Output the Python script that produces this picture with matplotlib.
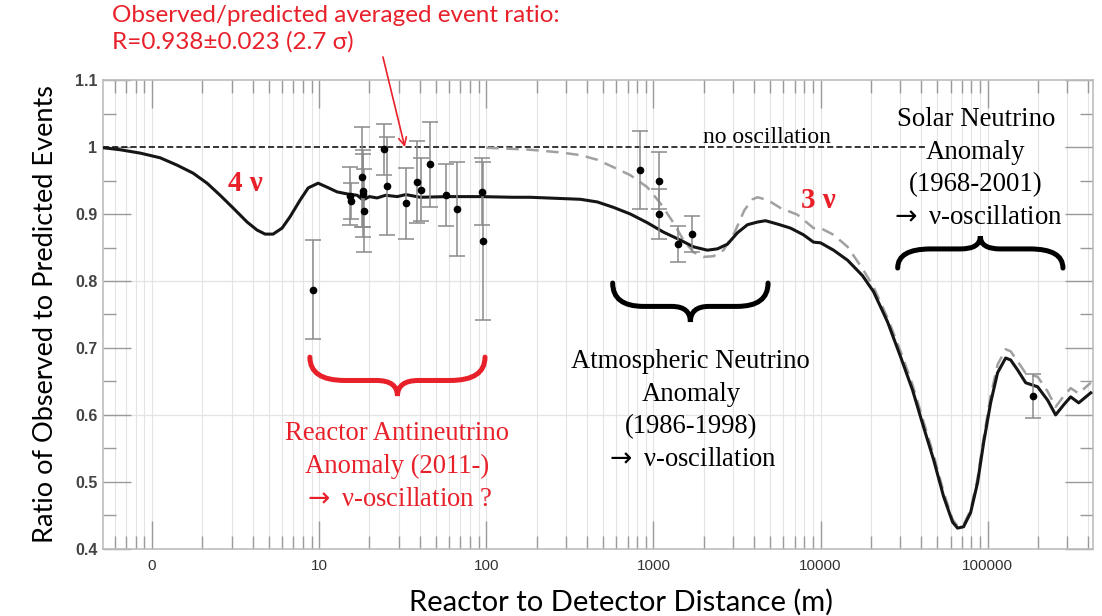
import matplotlib
matplotlib.use("Agg")
import matplotlib.pyplot as plt
from matplotlib.path import Path
from matplotlib.patches import PathPatch
from matplotlib.ticker import FixedLocator, LogLocator, MultipleLocator, FuncFormatter

plt.rcParams["mathtext.fontset"] = "dejavusans"

# ---- data ----
# 4 nu (sterile) prediction, solid black
d4 = [0.509, 0.643, 0.848, 1.117, 1.411, 1.761, 2.135, 2.555, 3.055, 3.705,
      4.253, 4.75, 5.30, 6.00, 6.70, 7.70, 8.60, 9.86, 11.16, 12.81, 14.71,
      16.89, 18.3, 20.0, 22.2, 25.0, 29.3, 33.0, 40.3, 58.4, 92, 145, 183,
      365, 462, 576, 728, 920, 1148, 1452, 1737, 2105, 2417, 2775, 3185, 3654,
      4198, 4688, 5530, 6610, 7904, 9080, 10000, 11970, 14520, 17830, 20770,
      25180, 30120, 35560, 41360, 47520, 54540, 61690, 66100, 71780, 79080,
      87080, 94560, 104200, 114700, 128200, 137400, 151300, 169000, 199200,
      228600, 255200, 285100, 314000, 350700, 414000]
r4 = [0.999, 0.996, 0.991, 0.984, 0.973, 0.961, 0.946, 0.928, 0.909, 0.888,
      0.876, 0.870, 0.870, 0.879, 0.896, 0.921, 0.939, 0.946, 0.940, 0.933,
      0.930, 0.928, 0.921, 0.926, 0.924, 0.928, 0.926, 0.929, 0.925, 0.926,
      0.926, 0.925, 0.925, 0.922, 0.918, 0.910, 0.900, 0.887, 0.873, 0.861,
      0.851, 0.846, 0.848, 0.855, 0.872, 0.884, 0.888, 0.890, 0.885, 0.879,
      0.869, 0.858, 0.857, 0.846, 0.831, 0.808, 0.784, 0.739, 0.687, 0.637,
      0.582, 0.533, 0.478, 0.440, 0.431, 0.433, 0.454, 0.499, 0.558, 0.618,
      0.663, 0.685, 0.682, 0.667, 0.648, 0.642, 0.622, 0.600, 0.615, 0.627,
      0.618, 0.633]

# 3 nu prediction, dashed grey
d3 = [100, 183, 276, 365, 462, 576, 728, 920, 1101, 1318, 1513, 1737, 1993,
      2288, 2625, 3054, 3508, 3918, 4198, 4816, 5758, 7280, 9080, 10000, 11970,
      14520, 18080, 20770, 25180, 30120, 35560, 41360, 47520, 54540, 61690,
      66100, 71780, 79080, 87080, 94560, 104200, 114700, 128200, 137400,
      151300, 169000, 199200, 228600, 255200, 285100, 314000, 350700, 414000]
r3 = [0.999, 0.996, 0.992, 0.988, 0.981, 0.970, 0.958, 0.940, 0.916, 0.887,
      0.861, 0.843, 0.836, 0.837, 0.846, 0.872, 0.906, 0.922, 0.925, 0.921,
      0.909, 0.899, 0.879, 0.879, 0.869, 0.851, 0.816, 0.791, 0.745, 0.695,
      0.645, 0.590, 0.540, 0.485, 0.444, 0.434, 0.436, 0.458, 0.505, 0.565,
      0.628, 0.675, 0.698, 0.695, 0.680, 0.662, 0.657, 0.635, 0.612, 0.628,
      0.640, 0.632, 0.648]

# measured ratios: distance (m), ratio, error
dist = [9.2, 15.3, 15.6, 18.0, 18.3, 18.3, 18.6, 24.5, 25.5, 33.2, 38.6, 40.8,
        46.2, 57.6, 67.0, 94.6, 95.5, 836, 1086, 1086, 1412, 1713, 185800]
ratio = [0.787, 0.927, 0.920, 0.955, 0.935, 0.930, 0.905, 0.997, 0.942, 0.916,
         0.948, 0.936, 0.974, 0.928, 0.907, 0.933, 0.860, 0.966, 0.950, 0.900,
         0.855, 0.870, 0.628]
err = [0.074, 0.043, 0.027, 0.075, 0.055, 0.065, 0.062, 0.038, 0.073, 0.053,
       0.061, 0.047, 0.063, 0.046, 0.070, 0.050, 0.118, 0.058, 0.043, 0.037,
       0.027, 0.027, 0.033]

xticks = [1, 10, 100, 1000, 10000, 100000]
xlabels = ["0", "10", "100", "1000", "10000", "100000"]
hgrid = [0.6, 0.8]

SERIF = ["Liberation Serif", "DejaVu Serif"]
SANS = ["Lato", "DejaVu Sans"]
RED = "#e8202a"
ARROW = r"$\rightarrow$"

fig = plt.figure(figsize=(11.02, 6.16), dpi=100)
ax = fig.add_axes([0.0935, 0.109, 0.898, 0.761])
ax.set_xscale("log")
ax.set_xlim(0.509, 425000)
ax.set_ylim(0.4, 1.1)

# grid
ax.xaxis.set_major_locator(FixedLocator(xticks))
ax.xaxis.set_minor_locator(LogLocator(base=10, subs=range(2, 10), numticks=20))
ax.grid(True, which="both", axis="x", color="#e4e4e4", lw=0.8)
for g in hgrid:
    ax.axhline(g, color="#e4e4e4", lw=0.9, zorder=0)
ax.set_axisbelow(True)

# no oscillation line
ax.axhline(1.0, xmax=0.831, color="black", lw=1.1, ls=(0, (4, 2)), zorder=2)

ax.plot(d3, r3, color="#a0a0a0", lw=1.8, ls=(0, (5, 3)), zorder=3)
ax.plot(d4, r4, color="#151515", lw=2.2, zorder=4)
ax.errorbar(dist, ratio, yerr=err, fmt="o", color="black", ms=4.5,
            ecolor="#8a8a8a", elinewidth=1.1, capsize=6, capthick=1.1, zorder=5)

# ticks
ax.set_xticklabels(xlabels)
ax.yaxis.set_major_locator(MultipleLocator(0.1))
ax.yaxis.set_minor_locator(MultipleLocator(0.05))
ax.yaxis.set_major_formatter(FuncFormatter(lambda v, p: "%g" % round(v, 2)))
ax.tick_params(which="both", direction="in", top=True, right=True, color="#9a9a9a", width=1)
ax.tick_params(which="major", length=20)
ax.tick_params(which="minor", length=9.5)
ax.tick_params(axis="x", pad=7, labelsize=11, labelcolor="#333333")
ax.tick_params(axis="y", pad=4, labelsize=11.5, labelcolor="#444444")
for t in ax.get_xticklabels():
    t.set_family(["Liberation Sans Narrow", "Liberation Sans"])
for t in ax.get_yticklabels():
    t.set_family(["Liberation Sans", "DejaVu Sans"])
    t.set_fontweight("bold")
for s in ax.spines.values():
    s.set_color("#bdbdbd")
    s.set_linewidth(1.2)

ax.set_ylabel("Ratio of Observed to Predicted Events", fontsize=19.5, family=SANS, labelpad=12)
ax.set_xlabel("Reactor to Detector Distance (m)", fontsize=21, family=SANS, labelpad=10)
ax.xaxis.set_label_coords(0.523, -0.085)


def brace(x0, x1, yend, ytip, color):
    # curly brace in axes fraction; tip at ytip, ends at yend
    xm = (x0 + x1) / 2
    w = x1 - x0
    ym = yend + 0.6 * (ytip - yend)
    verts = [(x0, yend), (x0, ym), (x0 + 0.2 * w, ym),
             (xm - 0.12 * w, ym),
             (xm, ym), (xm, ytip),
             (xm, ym), (xm + 0.12 * w, ym),
             (x1 - 0.2 * w, ym),
             (x1, ym), (x1, yend)]
    codes = [Path.MOVETO, Path.CURVE3, Path.CURVE3, Path.LINETO,
             Path.CURVE3, Path.CURVE3, Path.CURVE3, Path.CURVE3,
             Path.LINETO, Path.CURVE3, Path.CURVE3]
    ax.add_patch(PathPatch(Path(verts, codes), transform=ax.transAxes, fill=False,
                           ec=color, lw=3.6, capstyle="round", zorder=6))


brace(0.209, 0.386, 0.409, 0.326, RED)
brace(0.515, 0.672, 0.567, 0.484, "black")
brace(0.803, 0.970, 0.599, 0.667, "black")

ax.text(0.1436, 0.780, "4 ν", transform=ax.transAxes, color=RED, fontsize=21,
        fontweight="bold", family=SERIF, ha="center", va="center")
ax.text(0.723, 0.744, "3 ν", transform=ax.transAxes, color=RED, fontsize=21,
        fontweight="bold", family=SERIF, ha="center", va="center")
ax.text(0.671, 0.878, "no oscillation", transform=ax.transAxes, fontsize=17,
        family=SERIF, ha="center", va="center")
ax.text(0.882, 0.811, "Solar Neutrino\nAnomaly\n(1968-2001)\n" + ARROW + " ν-oscillation",
        transform=ax.transAxes, fontsize=19.3, family=SERIF, ha="center",
        va="center", linespacing=1.4)
ax.text(0.594, 0.295, "Atmospheric Neutrino\nAnomaly\n(1986-1998)\n" + ARROW + " ν-oscillation",
        transform=ax.transAxes, fontsize=19.2, family=SERIF, ha="center",
        va="center", linespacing=1.4)
ax.text(0.297, 0.176, "Reactor Antineutrino\nAnomaly (2011-)\n" + ARROW + " ν-oscillation ?",
        transform=ax.transAxes, fontsize=19.2, family=SERIF, color=RED,
        ha="center", va="center", linespacing=1.4)

fig.text(0.1016, 0.992, "Observed/predicted averaged event ratio:\nR=0.938±0.023 (2.7 σ)",
         color=RED, fontsize=17.5, family=SANS, ha="left", va="top", linespacing=1.3)
ax.annotate("", xy=(0.305, 0.857), xycoords="axes fraction",
            xytext=(0.3475, 0.9075), textcoords="figure fraction",
            arrowprops=dict(arrowstyle="->", color=RED, lw=1.2,
                            shrinkA=0, shrinkB=0, mutation_scale=14), zorder=7)

fig.savefig("out.png", dpi=100)
